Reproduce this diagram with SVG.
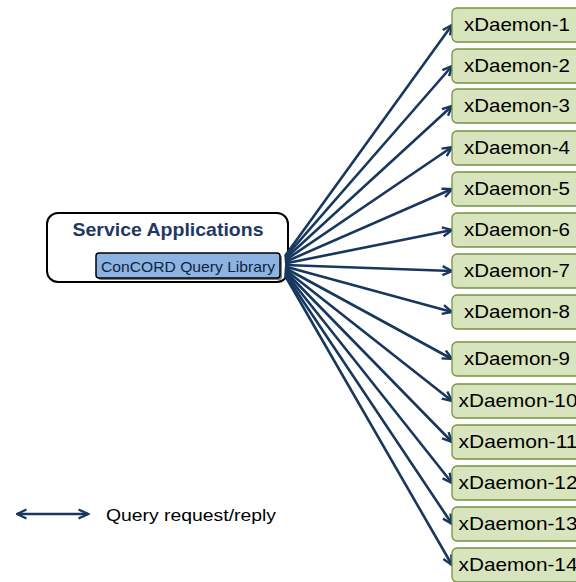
<svg xmlns="http://www.w3.org/2000/svg" width="576" height="582" viewBox="0 0 576 582">
<style>
.d rect{fill:#d7e4bd;stroke:#77933c;stroke-width:1.3}
.d text{font-family:"Liberation Sans",Arial,sans-serif;font-size:18.5px;fill:#000;text-anchor:middle}
.c line{stroke:#17375e;stroke-width:2.6}
</style>
<defs>
<marker id="ah" markerUnits="userSpaceOnUse" markerWidth="12" markerHeight="12" viewBox="0 0 12 12" refX="10.5" refY="6" orient="auto-start-reverse">
<path d="M1,1.5 L10.5,6 L1,10.5" fill="none" stroke="#17375e" stroke-width="2.4" stroke-linejoin="miter"/>
</marker>
</defs>
<rect width="576" height="582" fill="#fff"/>
<g id="service-applications">
<rect x="47" y="213" width="241" height="69" rx="11" fill="#fff" stroke="#000" stroke-width="2"/>
<text x="168" y="236" font-family="'Liberation Sans',Arial,sans-serif" font-size="19" font-weight="bold" fill="#1f3864" text-anchor="middle" textLength="191" lengthAdjust="spacingAndGlyphs">Service Applications</text>
</g>
<g id="concord-query-library">
<rect x="98" y="255" width="184" height="25" rx="3" fill="#7f7f7f"/>
<rect x="96" y="253" width="184" height="25" rx="3" fill="#8db3e2" stroke="#000" stroke-width="1.5"/>
<text x="188" y="272" font-family="'Liberation Sans',Arial,sans-serif" font-size="15" fill="#0f243e" text-anchor="middle" textLength="174" lengthAdjust="spacingAndGlyphs">ConCORD Query Library</text>
</g>
<g id="connectors" class="c">
<line x1="285" y1="256" x2="452" y2="25" marker-end="url(#ah)"/>
<line x1="285" y1="257.5" x2="452" y2="66" marker-end="url(#ah)"/>
<line x1="285" y1="259" x2="452" y2="106" marker-end="url(#ah)"/>
<line x1="285" y1="260.5" x2="452" y2="147" marker-end="url(#ah)"/>
<line x1="285" y1="262" x2="452" y2="189" marker-end="url(#ah)"/>
<line x1="285" y1="263.5" x2="452" y2="230" marker-end="url(#ah)"/>
<line x1="285" y1="265" x2="452" y2="271" marker-end="url(#ah)"/>
<line x1="285" y1="266.5" x2="452" y2="312" marker-end="url(#ah)"/>
<line x1="285" y1="268" x2="452" y2="359" marker-end="url(#ah)"/>
<line x1="285" y1="269.5" x2="452" y2="401" marker-end="url(#ah)"/>
<line x1="285" y1="271" x2="452" y2="442" marker-end="url(#ah)"/>
<line x1="285" y1="272.5" x2="452" y2="483" marker-end="url(#ah)"/>
<line x1="285" y1="274" x2="452" y2="524" marker-end="url(#ah)"/>
<line x1="285" y1="275.5" x2="452" y2="565" marker-end="url(#ah)"/>
<line x1="17" y1="514" x2="88" y2="514" marker-start="url(#ah)" marker-end="url(#ah)"/>
</g>
<g id="xdaemon-1" class="d"><rect x="452" y="8" width="132" height="34" rx="5"/><text x="517" y="31" textLength="106" lengthAdjust="spacingAndGlyphs">xDaemon-1</text></g>
<g id="xdaemon-2" class="d"><rect x="452" y="49" width="132" height="34" rx="5"/><text x="517" y="72" textLength="106" lengthAdjust="spacingAndGlyphs">xDaemon-2</text></g>
<g id="xdaemon-3" class="d"><rect x="452" y="89" width="132" height="34" rx="5"/><text x="517" y="112" textLength="106" lengthAdjust="spacingAndGlyphs">xDaemon-3</text></g>
<g id="xdaemon-4" class="d"><rect x="452" y="131" width="132" height="34" rx="5"/><text x="517" y="154" textLength="106" lengthAdjust="spacingAndGlyphs">xDaemon-4</text></g>
<g id="xdaemon-5" class="d"><rect x="452" y="172" width="132" height="34" rx="5"/><text x="517" y="195" textLength="106" lengthAdjust="spacingAndGlyphs">xDaemon-5</text></g>
<g id="xdaemon-6" class="d"><rect x="452" y="213" width="132" height="34" rx="5"/><text x="517" y="236" textLength="106" lengthAdjust="spacingAndGlyphs">xDaemon-6</text></g>
<g id="xdaemon-7" class="d"><rect x="452" y="254" width="132" height="34" rx="5"/><text x="517" y="277" textLength="106" lengthAdjust="spacingAndGlyphs">xDaemon-7</text></g>
<g id="xdaemon-8" class="d"><rect x="452" y="295" width="132" height="34" rx="5"/><text x="517" y="318" textLength="106" lengthAdjust="spacingAndGlyphs">xDaemon-8</text></g>
<g id="xdaemon-9" class="d"><rect x="452" y="342" width="132" height="34" rx="5"/><text x="517" y="365" textLength="106" lengthAdjust="spacingAndGlyphs">xDaemon-9</text></g>
<g id="xdaemon-10" class="d"><rect x="452" y="384" width="132" height="34" rx="5"/><text x="518" y="407" textLength="119" lengthAdjust="spacingAndGlyphs">xDaemon-10</text></g>
<g id="xdaemon-11" class="d"><rect x="452" y="425" width="132" height="34" rx="5"/><text x="518" y="448" textLength="119" lengthAdjust="spacingAndGlyphs">xDaemon-11</text></g>
<g id="xdaemon-12" class="d"><rect x="452" y="466" width="132" height="34" rx="5"/><text x="518" y="489" textLength="119" lengthAdjust="spacingAndGlyphs">xDaemon-12</text></g>
<g id="xdaemon-13" class="d"><rect x="452" y="507" width="132" height="34" rx="5"/><text x="518" y="530" textLength="119" lengthAdjust="spacingAndGlyphs">xDaemon-13</text></g>
<g id="xdaemon-14" class="d"><rect x="452" y="548" width="132" height="34" rx="5"/><text x="518" y="571" textLength="119" lengthAdjust="spacingAndGlyphs">xDaemon-14</text></g>
<g id="legend">
<text x="106" y="521" font-family="'Liberation Sans',Arial,sans-serif" font-size="16" fill="#000" textLength="170" lengthAdjust="spacingAndGlyphs">Query request/reply</text>
</g>
</svg>
